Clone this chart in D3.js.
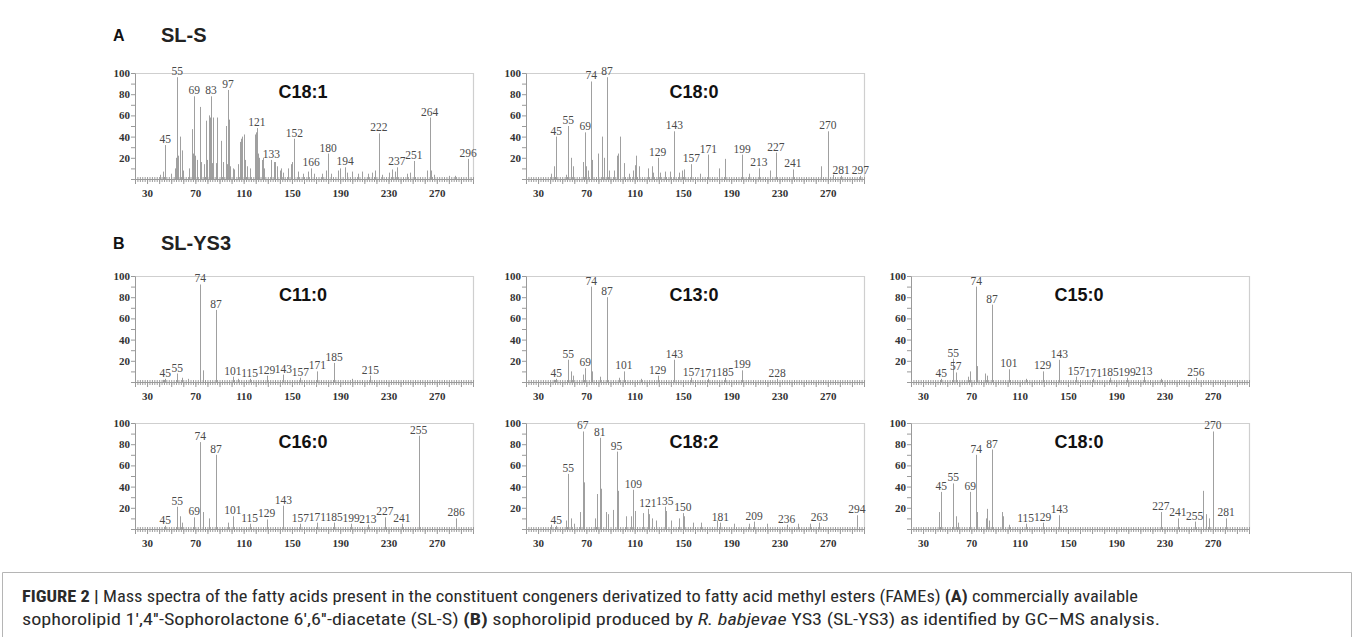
<!DOCTYPE html>
<html><head><meta charset="utf-8">
<script src="https://cdn.jsdelivr.net/npm/d3@7"></script>
<style>body{margin:0;background:#fff}</style>
</head><body>
<script>
// ---------- DATA ----------
const MZ_DOMAIN = [20, 300];
const X_TICKS = [30, 70, 110, 150, 190, 230, 270];
const Y_TICKS = [0, 10, 20, 30, 40, 50, 60, 70, 80, 90, 100];
const Y_LABELS = [20, 40, 60, 80, 100];

// SL-S C18:1  [m/z, relative intensity]
const sls_c181 = [[41,4],[43,7],[45,32],[50,5],[53,10],[54,20],[55,96],[56,22],[57,40],[59,27],[60,8],[65,10],[67,47],[68,24],[69,78],[70,22],[71,18],[74,68],[75,16],[77,14],[79,55],[80,18],[81,60],[82,58],[83,78],[84,15],[85,58],[87,15],[88,58],[91,36],[93,16],[95,50],[96,14],[97,84],[98,56],[99,12],[101,10],[102,9],[105,14],[107,35],[108,38],[109,40],[110,42],[111,18],[113,12],[115,10],[119,42],[120,44],[121,48],[122,24],[123,20],[125,18],[126,20],[127,10],[133,18],[135,16],[136,16],[138,12],[140,8],[141,10],[143,6],[147,10],[149,14],[150,16],[152,38],[155,7],[159,5],[163,7],[166,10],[168,5],[175,5],[178,8],[180,24],[182,5],[188,8],[190,10],[194,11],[196,6],[200,7],[205,5],[208,7],[213,5],[216,6],[219,8],[222,43],[225,4],[230,6],[233,9],[235,7],[237,11],[245,5],[248,6],[251,17],[262,8],[264,58],[265,8],[268,4],[280,3],[285,3],[296,19]];
const sls_c181_labels = [45,55,69,83,97,121,133,152,166,180,194,222,237,251,264,296];

// SL-S C18:0
const sls_c180 = [[41,5],[43,12],[45,40],[53,4],[55,50],[57,20],[59,12],[67,16],[69,44],[70,12],[71,8],[74,92],[75,18],[80,24],[83,40],[85,20],[87,96],[89,8],[93,8],[95,22],[96,24],[98,40],[101,15],[105,5],[109,8],[110,13],[111,22],[114,12],[121,10],[124,12],[125,6],[129,20],[131,6],[135,7],[139,7],[143,45],[147,6],[149,8],[151,9],[157,14],[164,5],[171,23],[180,10],[185,19],[199,23],[205,5],[213,10],[222,8],[227,25],[241,9],[264,12],[270,45],[274,4],[281,3],[297,3]];
const sls_c180_labels = [45,55,69,74,87,129,143,157,171,199,213,227,241,270,281,297];

// SL-YS3 C11:0
const ys3_c110 = [[43,2],[45,3],[55,8],[59,4],[64,3],[74,92],[76,11],[87,68],[101,5],[105,3],[115,3],[129,6],[143,7],[157,4],[171,10],[185,18],[200,3],[215,6]];
const ys3_c110_labels = [45,55,74,87,101,115,129,143,157,171,185,215];

// SL-YS3 C13:0
const ys3_c130 = [[43,2],[45,3],[55,21],[57,10],[59,6],[67,7],[69,13],[74,90],[75,10],[81,5],[87,80],[97,4],[101,10],[115,3],[129,6],[143,21],[157,4],[171,3],[185,4],[199,11],[228,3]];
const ys3_c130_labels = [45,55,69,74,87,101,129,143,157,171,185,199,228];

// SL-YS3 C15:0
const ys3_c150 = [[45,3],[55,22],[57,9],[67,5],[69,10],[74,90],[75,15],[81,8],[83,6],[87,73],[101,12],[115,3],[129,10],[143,21],[157,5],[171,3],[185,4],[199,4],[213,5],[227,3],[256,4]];
const ys3_c150_labels = [45,55,57,74,87,101,129,143,157,171,185,199,213,256];

// SL-YS3 C16:0
const ys3_c160 = [[45,3],[55,21],[57,12],[59,6],[69,11],[74,82],[76,16],[81,10],[87,70],[97,6],[101,12],[115,5],[129,9],[143,22],[157,5],[171,6],[185,6],[199,5],[213,4],[227,11],[241,5],[255,88],[286,10]];
const ys3_c160_labels = [45,55,69,74,87,101,115,129,143,157,171,185,199,213,227,241,255,286];

// SL-YS3 C18:2
const ys3_c182 = [[41,4],[45,3],[53,8],[55,52],[57,10],[60,5],[65,16],[67,92],[68,44],[77,10],[79,33],[81,86],[82,38],[86,16],[88,14],[92,18],[95,73],[96,36],[103,12],[107,12],[109,37],[110,17],[117,15],[121,19],[122,14],[124,10],[128,8],[135,21],[136,17],[140,8],[147,10],[150,15],[151,12],[158,6],[165,6],[178,8],[181,6],[192,5],[205,5],[209,7],[220,5],[236,4],[245,5],[255,5],[263,6],[294,13]];
const ys3_c182_labels = [45,55,67,81,95,109,121,135,150,181,209,236,263,294];

// SL-YS3 C18:0
const ys3_c180 = [[43,16],[45,35],[55,43],[57,12],[59,6],[69,35],[74,70],[75,16],[82,10],[83,19],[85,8],[87,75],[95,16],[96,12],[101,4],[115,5],[129,6],[143,13],[227,16],[241,10],[255,7],[262,36],[264,14],[267,10],[270,92],[281,10]];
const ys3_c180_labels = [45,55,69,74,87,115,129,143,227,241,255,270,281];

const SECTION_LETTERS = ["A", "B"];
const SECTION_NAMES = ["SL-S", "SL-YS3"];

// ---------- LAYOUT ----------
const W = 1357, H = 637;
const PW = 338, PH = 106;
const COLS = [135, 526, 911];
const panels = [
  {data: sls_c181, labels: sls_c181_labels, title: "C18:1", col: 0, top: 73},
  {data: sls_c180, labels: sls_c180_labels, title: "C18:0", col: 1, top: 73},
  {data: ys3_c110, labels: ys3_c110_labels, title: "C11:0", col: 0, top: 276},
  {data: ys3_c130, labels: ys3_c130_labels, title: "C13:0", col: 1, top: 276},
  {data: ys3_c150, labels: ys3_c150_labels, title: "C15:0", col: 2, top: 276},
  {data: ys3_c160, labels: ys3_c160_labels, title: "C16:0", col: 0, top: 423},
  {data: ys3_c182, labels: ys3_c182_labels, title: "C18:2", col: 1, top: 423},
  {data: ys3_c180, labels: ys3_c180_labels, title: "C18:0", col: 2, top: 423}
];

const SERIF = "'Liberation Serif','Times New Roman',serif";
const SANS = "'Liberation Sans',Arial,Helvetica,sans-serif";

const svg = d3.select("body").append("svg").attr("width", W).attr("height", H);
svg.append("rect").attr("width", W).attr("height", H).attr("fill", "#fff");

// section headers
const secY = [41, 249];
SECTION_LETTERS.forEach((s, i) => {
  svg.append("text").attr("x", 113).attr("y", secY[i]).text(s)
    .attr("font-family", SANS).attr("font-weight", "bold").attr("font-size", 16).attr("fill", "#111");
  svg.append("text").attr("x", 161).attr("y", secY[i] + 1).text(SECTION_NAMES[i])
    .attr("font-family", SANS).attr("font-weight", "bold").attr("font-size", 20).attr("fill", "#222");
});

panels.forEach(p => {
  const left = COLS[p.col];
  const x = d3.scaleLinear().domain(MZ_DOMAIN).range([left, left + PW]);
  const y = d3.scaleLinear().domain([0, 100]).range([p.top + PH, p.top]);
  const g = svg.append("g");

  // frame (top + right)
  g.append("path")
    .attr("d", `M${left + 0.5},${p.top + 0.5}H${left + PW + 0.5}V${p.top + PH + 0.5}`)
    .attr("fill", "none").attr("stroke", "#cfcfcf").attr("stroke-width", 1.2);

  // peaks
  g.selectAll("line.peak").data(p.data).join("line").attr("class", "peak")
    .attr("x1", d => Math.round(x(d[0])) + 0.5).attr("x2", d => Math.round(x(d[0])) + 0.5)
    .attr("y1", y(0)).attr("y2", d => y(d[1]))
    .attr("stroke", "#a0a0a0").attr("stroke-width", 1);

  // peak labels
  const lab = p.data.filter(d => p.labels.includes(d[0]));
  g.selectAll("text.pl").data(lab).join("text").attr("class", "pl")
    .attr("x", d => x(d[0])).attr("y", d => y(Math.max(d[1], 3)) - 2)
    .attr("text-anchor", "middle").text(d => d[0])
    .attr("font-family", SERIF).attr("font-size", 11.5).attr("fill", "#4a4a4a");

  // title
  g.append("text").attr("x", left + 168).attr("y", p.top + 25).attr("text-anchor", "middle")
    .text(p.title).attr("font-family", SANS).attr("font-weight", "bold")
    .attr("font-size", 18).attr("fill", "#111");

  // x axis ruler
  const base = p.top + PH;
  const minor = d3.range(22, 300, 2);
  const major = d3.range(30, 300, 10);
  const gx1 = g.append("g").attr("transform", `translate(0,${base})`)
    .call(d3.axisBottom(x).tickValues(minor).tickSize(3).tickFormat(""));
  const gx1b = g.append("g").attr("transform", `translate(0,${base})`)
    .call(d3.axisTop(x).tickValues(minor).tickSize(2).tickFormat(""));
  const gx2 = g.append("g").attr("transform", `translate(0,${base})`)
    .call(d3.axisBottom(x).tickValues(major).tickSize(5).tickFormat(""));
  const gx3 = g.append("g").attr("transform", `translate(0,${base})`)
    .call(d3.axisBottom(x).tickValues(X_TICKS).tickSize(0).tickPadding(10));
  [gx1, gx1b, gx2, gx3].forEach(a => {
    a.select(".domain").attr("stroke", "#9a9a9a");
    a.selectAll(".tick line").attr("stroke", "#9a9a9a");
  });
  gx3.selectAll("text").attr("font-family", SERIF).attr("font-weight", "bold")
    .attr("font-size", 11).attr("fill", "#333");

  // y axis
  const gy = g.append("g").attr("transform", `translate(${left},0)`)
    .call(d3.axisLeft(y).tickValues(Y_TICKS).tickSize(4).tickPadding(1)
      .tickFormat(d => Y_LABELS.includes(d) ? d : ""));
  gy.select(".domain").attr("stroke", "#9a9a9a");
  gy.selectAll(".tick line").attr("stroke", "#9a9a9a");
  gy.selectAll("text").attr("font-family", SERIF).attr("font-weight", "bold")
    .attr("font-size", 11).attr("fill", "#333");
});

// caption box
svg.append("path").attr("d", "M2.5,640V572.5H1351.5V640")
  .attr("fill", "none").attr("stroke", "#b5b5b5").attr("stroke-width", 1);

const CAP = "'Liberation Sans Narrow','Roboto Condensed','Arial Narrow','Liberation Sans',sans-serif";
const c1 = svg.append("text").attr("x", 22).attr("y", 602).attr("font-family", CAP)
  .attr("font-size", 16.5).attr("fill", "#2a2a2a")
  .attr("textLength", 1116).attr("lengthAdjust", "spacingAndGlyphs");
c1.append("tspan").attr("font-weight", "bold").text("FIGURE 2 | ");
c1.append("tspan").text("Mass spectra of the fatty acids present in the constituent congeners derivatized to fatty acid methyl esters (FAMEs) ");
c1.append("tspan").attr("font-weight", "bold").text("(A)");
c1.append("tspan").text(" commercially available");

const c2 = svg.append("text").attr("x", 22).attr("y", 625).attr("font-family", CAP)
  .attr("font-size", 16.5).attr("fill", "#2a2a2a")
  .attr("textLength", 1138).attr("lengthAdjust", "spacingAndGlyphs");
c2.append("tspan").text("sophorolipid 1′,4′′-Sophorolactone 6′,6′′-diacetate (SL-S) ");
c2.append("tspan").attr("font-weight", "bold").text("(B)");
c2.append("tspan").text(" sophorolipid produced by ");
c2.append("tspan").attr("font-style", "italic").text("R. babjevae");
c2.append("tspan").text(" YS3 (SL-YS3) as identified by GC–MS analysis.");
</script>
</body></html>
